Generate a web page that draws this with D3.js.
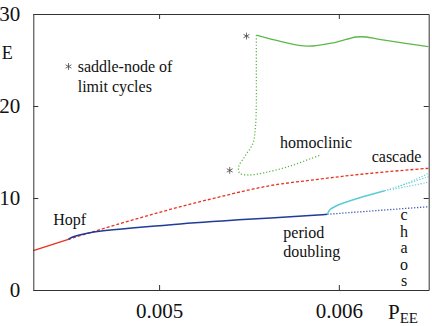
<!DOCTYPE html>
<html>
<head>
  <meta charset="utf-8">
  <title>Bifurcation diagram E vs P_EE</title>
  <script src="https://d3js.org/d3.v7.min.js"></script>
  <style>
    body { margin: 0; background: #fff; }
  </style>
</head>
<body>
  <svg id="grafico"></svg>

  <script>
    // data: [P_EE, E]
    const redSolid = [[0.0043, 4.27], [0.004495, 5.51]];
    const redDashed = [[0.004495, 5.51], [0.00478, 7.2], [0.005051, 8.70], [0.005328, 10.08],
      [0.005606, 11.30], [0.005884, 12.03], [0.006161, 12.66], [0.006498, 13.23]];
    const blueSolid = [[0.004495, 5.51], [0.004523, 5.79], [0.004615, 6.23], [0.005051, 7.07],
      [0.005467, 7.65], [0.005884, 8.15], [0.005936, 8.23]];
    const blueDotted = [[0.005936, 8.23], [0.006498, 9.05]];
    const cyanSolid = [[0.005936, 8.23], [0.005949, 8.70], [0.005996, 9.24], [0.006107, 9.97], [0.006255, 10.79]];
    const cyanBranches = [
      [[0.006255, 10.79], [0.006380, 11.25], [0.006498, 11.71]],
      [[0.006255, 10.79], [0.006380, 11.55], [0.006498, 12.32]],
      [[0.006330, 11.25], [0.006420, 11.95], [0.006498, 12.68]]
    ];
    const greenSolid = [[0.005541, 27.7], [0.005680, 27.0], [0.005826, 26.5], [0.005976, 26.9],
      [0.006096, 27.5], [0.006152, 27.5], [0.006226, 27.25], [0.006497, 26.45]];
    const greenDotted = [[0.005541, 27.7], [0.005541, 23.9], [0.005541, 20.3], [0.005536, 17.75],
      [0.005522, 15.95], [0.005476, 14.5], [0.005443, 13.4], [0.005448, 12.7], [0.005495, 12.5],
      [0.005587, 12.75], [0.005717, 13.4], [0.005847, 14.3], [0.005902, 14.7]];
    const saddleNodes = [[0.005486, 27.6], [0.005393, 13.0]];

    const xTicks = [0.005, 0.006];
    const yTicks = [0, 10, 20, 30];

    const W = 432, H = 326;
    const FUENTE = "'Liberation Serif'";

    const svg = d3.select("#grafico").attr("width", W).attr("height", H);

    const x = d3.scaleLinear().domain([0.0043, 0.0065]).range([33.3, 428.7]);
    const y = d3.scaleLinear().domain([0, 30]).range([290, 14]);

    const linea = d3.line().x(d => x(d[0])).y(d => y(d[1])).curve(d3.curveCatmullRom);

    function curva(datos, color, dash, ancho) {
      svg.append("path")
        .attr("d", linea(datos))
        .attr("fill", "none")
        .attr("stroke", color)
        .attr("stroke-width", ancho || 1.3)
        .attr("stroke-dasharray", dash || null);
    }

    curva(redSolid, "#e8321e");
    curva(redDashed, "#e8321e", "3,2");
    curva(blueSolid, "#1f3c96", null, 1.5);
    curva(blueDotted, "#3050b0", "1.2,1.8");
    curva(cyanSolid, "#5ccbd8", null, 1.4);
    cyanBranches.forEach(b => curva(b, "#5ccbd8", "1.2,1.6", 1.1));
    curva(greenSolid, "#5cb84a", null, 1.3);
    curva(greenDotted, "#5cb84a", "1.2,2");

    const estrella = d3.symbol(d3.symbolAsterisk, 32);
    svg.selectAll(".sn")
      .data(saddleNodes)
      .enter()
      .append("path")
      .attr("class", "sn")
      .attr("d", estrella)
      .attr("transform", d => `translate(${x(d[0])},${y(d[1])})`)
      .attr("fill", "none")
      .attr("stroke", "#444")
      .attr("stroke-width", 0.8);

    // frame and ticks
    const ejeAbajo = svg.append("g").attr("transform", "translate(0,290)")
      .call(d3.axisBottom(x).tickValues(xTicks).tickFormat(d3.format(".3f"))
        .tickSizeInner(-5).tickSizeOuter(0).tickPadding(13.5));
    svg.append("g").attr("transform", "translate(0,14)")
      .call(d3.axisTop(x).tickValues(xTicks).tickFormat("").tickSizeInner(-5).tickSizeOuter(0));
    const ejeIzq = svg.append("g").attr("transform", "translate(33.3,0)")
      .call(d3.axisLeft(y).tickValues(yTicks).tickSizeInner(-5).tickSizeOuter(0).tickPadding(13));
    svg.append("g").attr("transform", "translate(428.7,0)")
      .call(d3.axisRight(y).tickValues(yTicks).tickFormat("").tickSizeInner(-5).tickSizeOuter(0));

    svg.selectAll(".domain, .tick line").attr("stroke", "#333").attr("stroke-width", 1);
    svg.selectAll("g").attr("font-family", null).attr("font-size", null);

    ejeAbajo.selectAll("text")
      .style("font-family", FUENTE).style("font-size", "21px").attr("fill", "#111");
    ejeIzq.selectAll("text")
      .style("font-family", FUENTE).style("font-size", "21px").attr("fill", "#111")
      .attr("dy", "0.33em");

    function rotulo(txt, px, py, tam, ancla) {
      return svg.append("text")
        .attr("x", px)
        .attr("y", py)
        .style("font-family", FUENTE)
        .style("font-size", tam + "px")
        .attr("fill", "#111")
        .attr("text-anchor", ancla || "start")
        .text(txt);
    }

    rotulo("E", 1.7, 59, 18);
    const pee = rotulo("P", 388, 319, 21);
    pee.append("tspan").style("font-size", "15px").attr("dy", 4).text("EE");

    rotulo("Hopf", 53.3, 225, 16);
    rotulo("saddle-node of", 77.7, 71.7, 16);
    rotulo("limit cycles", 77.7, 91.7, 16);
    rotulo("homoclinic", 280, 148.3, 16);
    rotulo("cascade", 371.7, 161.7, 16);
    rotulo("period", 283.3, 238.3, 16);
    rotulo("doubling", 283.3, 257.3, 16);
    ["c", "h", "a", "o", "s"].forEach((l, i) => rotulo(l, 404, 220 + i * 16.5, 16, "middle"));

    svg.append("path")
      .attr("d", estrella)
      .attr("transform", "translate(68.5,66.5)")
      .attr("fill", "none")
      .attr("stroke", "#444")
      .attr("stroke-width", 0.8);
  </script>
</body>
</html>
